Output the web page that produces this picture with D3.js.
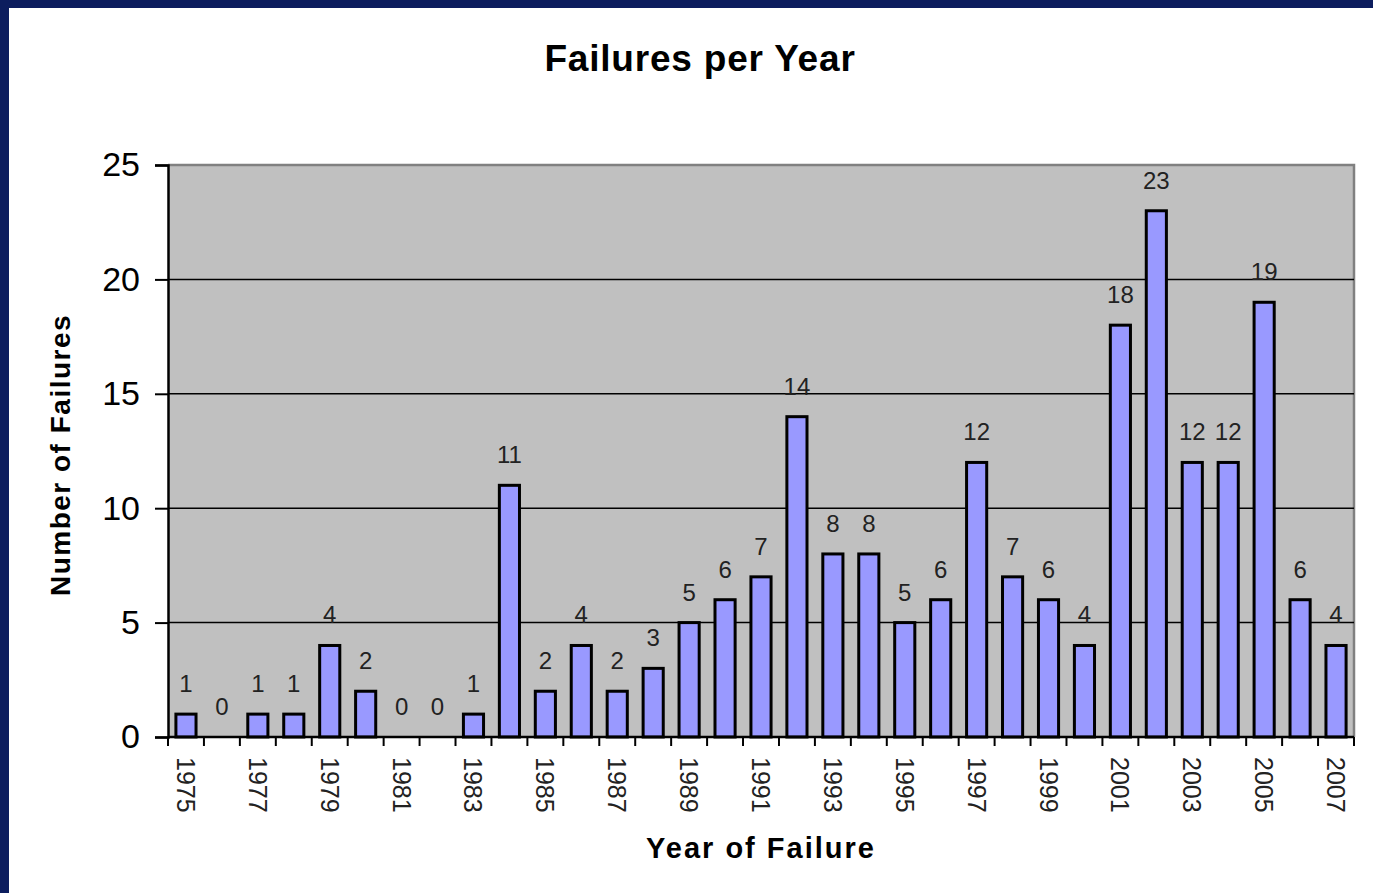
<!DOCTYPE html>
<html>
<head>
<meta charset="utf-8">
<script src="https://cdn.jsdelivr.net/npm/d3@7"></script>
<style>
	body { margin: 0; background: #fff; }
	svg { display: block; font-family: "Liberation Sans", Arial, sans-serif; }
</style>
</head>
<body>
<svg id="chart" width="1373" height="893"></svg>
<script>
// values
var years = [1975, 1976, 1977, 1978, 1979, 1980, 1981, 1982, 1983, 1984, 1985,
	1986, 1987, 1988, 1989, 1990, 1991, 1992, 1993, 1994, 1995, 1996,
	1997, 1998, 1999, 2000, 2001, 2002, 2003, 2004, 2005, 2006, 2007];
var failures = [1, 0, 1, 1, 4, 2, 0, 0, 1, 11, 2,
	4, 2, 3, 5, 6, 7, 14, 8, 8, 5, 6,
	12, 7, 6, 4, 18, 23, 12, 12, 19, 6, 4];
var yTicks = [0, 5, 10, 15, 20, 25];

var W = 1373, H = 893;
var plot = { left: 168, top: 165, right: 1354, bottom: 737 };

var svg = d3.select("#chart");

// navy frame on top and left, white panel
svg.append("rect").attr("width", W).attr("height", H).attr("fill", "#0c1d5e");
svg.append("rect").attr("x", 9).attr("y", 8).attr("width", W - 9).attr("height", H - 8).attr("fill", "#fff");

var x = d3.scaleBand()
	.domain(years)
	.range([plot.left, plot.right])
	.paddingInner(0.44)
	.paddingOuter(0.22);

var y = d3.scaleLinear()
	.domain([0, 25])
	.range([plot.bottom, plot.top]);

// plot area
svg.append("rect")
	.attr("x", plot.left).attr("y", plot.top)
	.attr("width", plot.right - plot.left).attr("height", plot.bottom - plot.top)
	.attr("fill", "#c0c0c0");
svg.append("path")
	.attr("d", "M" + plot.left + "," + plot.top + "H" + plot.right + "V" + plot.bottom)
	.attr("fill", "none").attr("stroke", "#808080").attr("stroke-width", 2.5);

// gridlines
svg.selectAll(".grid")
	.data(yTicks.filter(function(d) { return d > 0 && d < 25; }))
	.enter().append("line")
	.attr("class", "grid")
	.attr("x1", plot.left).attr("x2", plot.right)
	.attr("y1", function(d) { return y(d); })
	.attr("y2", function(d) { return y(d); })
	.attr("stroke", "#000").attr("stroke-width", 1.5);

// bars
svg.selectAll(".bar")
	.data(failures)
	.enter().append("rect")
	.attr("class", "bar")
	.attr("x", function(d, i) { return x(years[i]); })
	.attr("y", function(d) { return y(d); })
	.attr("width", x.bandwidth())
	.attr("height", function(d) { return y(0) - y(d); })
	.attr("fill", "#9999ff")
	.attr("stroke", "#000")
	.attr("stroke-width", 3)
	.style("display", function(d) { return d > 0 ? null : "none"; });

// value labels
svg.selectAll(".val")
	.data(failures)
	.enter().append("text")
	.attr("class", "val")
	.attr("x", function(d, i) { return x(years[i]) + x.bandwidth() / 2; })
	.attr("y", function(d) { return y(d) - 22; })
	.attr("text-anchor", "middle")
	.attr("font-size", 24)
	.attr("fill", "#222")
	.text(function(d) { return d; });

// y axis
var yAxis = svg.append("g")
	.attr("transform", "translate(" + plot.left + ",0)")
	.call(d3.axisLeft(y).tickValues(yTicks).tickSize(13).tickPadding(15));
yAxis.select(".domain").attr("stroke", "#000").attr("stroke-width", 2.5);
yAxis.selectAll(".tick line").attr("stroke", "#000").attr("stroke-width", 2);
yAxis.selectAll(".tick text")
	.attr("font-size", 34)
	.attr("fill", "#000")
	.attr("font-family", "Liberation Sans, Arial, sans-serif");

// x axis baseline and category boundary ticks
var step = x.step();
var bounds = d3.range(years.length + 1).map(function(i) {
	return x(years[0]) - (step - x.bandwidth()) / 2 + i * step;
});
svg.append("line")
	.attr("x1", plot.left).attr("x2", plot.right)
	.attr("y1", plot.bottom).attr("y2", plot.bottom)
	.attr("stroke", "#000").attr("stroke-width", 2.5);
svg.selectAll(".xtick")
	.data(bounds)
	.enter().append("line")
	.attr("class", "xtick")
	.attr("x1", function(d) { return d; }).attr("x2", function(d) { return d; })
	.attr("y1", plot.bottom).attr("y2", plot.bottom + 9)
	.attr("stroke", "#000").attr("stroke-width", 2);

// year labels, every other year, rotated
svg.selectAll(".xlab")
	.data(years.filter(function(d, i) { return i % 2 === 0; }))
	.enter().append("text")
	.attr("class", "xlab")
	.attr("transform", function(d) {
		return "translate(" + (x(d) + x.bandwidth() / 2 - 9) + "," + (plot.bottom + 20) + ") rotate(90)";
	})
	.attr("font-size", 25)
	.attr("fill", "#222")
	.text(function(d) { return d; });

// titles
svg.append("text")
	.attr("x", 700).attr("y", 71)
	.attr("text-anchor", "middle")
	.attr("font-size", 37).attr("font-weight", "bold")
	.attr("letter-spacing", 0.8)
	.text("Failures per Year");

svg.append("text")
	.attr("x", (plot.left + plot.right) / 2).attr("y", 858)
	.attr("text-anchor", "middle")
	.attr("font-size", 29).attr("font-weight", "bold")
	.attr("letter-spacing", 2)
	.text("Year of Failure");

svg.append("text")
	.attr("transform", "translate(70,455) rotate(-90)")
	.attr("text-anchor", "middle")
	.attr("font-size", 28).attr("font-weight", "bold")
	.attr("letter-spacing", 1.5)
	.text("Number of Failures");
</script>
</body>
</html>
